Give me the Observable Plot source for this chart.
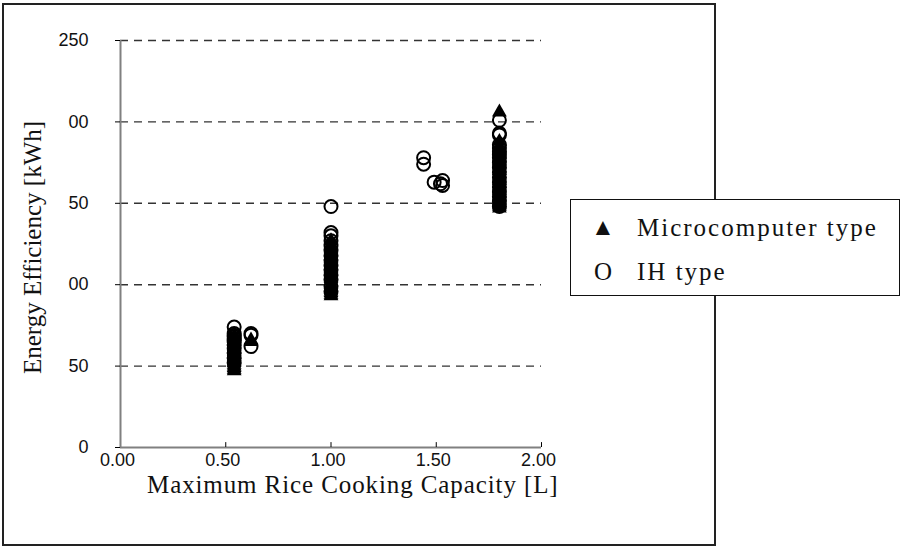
<!DOCTYPE html>
<html><head><meta charset="utf-8">
<script src="https://cdn.jsdelivr.net/npm/d3@7"></script>
<script src="https://cdn.jsdelivr.net/npm/@observablehq/plot@0.6"></script>
<style>
body{margin:0;background:#fff;}
#wrap{position:relative;width:909px;height:548px;overflow:hidden;background:#fff;}
#frame{position:absolute;left:2px;top:3px;width:710px;height:539px;border:2px solid #222;}
#chart{position:absolute;left:0;top:0;}
#ytitle{position:absolute;left:-106.5px;top:220.5px;width:295px;height:53px;background:#fff;transform:rotate(-90deg);
  font-family:"Liberation Serif","DejaVu Serif",serif;font-size:25px;line-height:36px;text-align:center;color:#111;}
#xtitle{position:absolute;left:147px;top:471px;font-family:"Liberation Serif","DejaVu Serif",serif;font-size:25px;letter-spacing:0.9px;color:#111;white-space:nowrap;}
#legend{position:absolute;left:570px;top:199px;width:328px;height:95px;border:1.5px solid #111;background:#fff;
  font-family:"Liberation Serif","DejaVu Serif",serif;font-size:25px;letter-spacing:2px;color:#111;}
.row{position:absolute;left:0;white-space:nowrap;}
.sym{position:absolute;left:20px;width:24px;text-align:center;letter-spacing:0;}
.lab{position:absolute;left:66px;}
</style></head><body>
<div id="wrap">
  <div id="frame"></div>
  <div id="chart"></div>
  <div id="ytitle">Energy Efficiency [kWh]</div>
  <div id="xtitle">Maximum Rice Cooking Capacity [L]</div>
  <div id="legend">
    <div class="row" style="top:14px"><span class="sym" style="font-size:24px;top:0px">▲</span><span class="lab">Microcomputer type</span></div>
    <div class="row" style="top:58px"><span class="sym">O</span><span class="lab">IH type</span></div>
  </div>
</div>
<script>
const xTicks = [0, 0.5, 1.0, 1.5, 2.0];
const yTicks = [0, 50, 100, 150, 200, 250];

const microCap = [
  0.54,0.54,0.54,0.54,0.54,0.54,0.54,0.54,0.54,0.54,0.54,0.54,0.54,0.54,0.54,0.54,0.54,0.54,0.54,0.54,0.54,0.54,
  0.62,0.62,
  1.0,1.0,1.0,1.0,1.0,1.0,1.0,1.0,1.0,1.0,1.0,1.0,1.0,1.0,1.0,1.0,1.0,1.0,1.0,1.0,
  1.8,1.8,1.8,1.8,1.8,1.8,1.8,1.8,1.8,1.8,1.8,1.8,1.8,1.8,1.8,1.8,1.8,1.8,1.8,1.8,1.8,1.8
];
const microEnergy = [
  47,48,49,50,51,52,53,54,55,56,57,58,59,60,61,62,63,64,65,66,67,68,
  65,66,
  93,94,95,96,97,98,100,102,104,106,108,110,112,114,116,118,120,122,124,127,
  147,148,149,150,152,154,156,158,160,162,164,166,168,170,172,174,176,178,180,184,188,206
];
const ihCap = [
  0.54,0.54,0.54,0.54,0.54,0.54,0.54,0.54,0.54,0.54,0.54,0.54,
  0.62,0.62,0.62,
  1.0,1.0,1.0,1.0,1.0,1.0,1.0,1.0,1.0,1.0,1.0,1.0,1.0,1.0,
  1.44,1.44,1.49,1.52,1.53,1.53,
  1.8,1.8,1.8,1.8,1.8,1.8,1.8,1.8,1.8,1.8,1.8,1.8,1.8,1.8,1.8,1.8,1.8,1.8
];
const ihEnergy = [
  52,55,58,61,63,65,66,67,68,69,70,74,
  62,69,70,
  96,99,103,106,109,112,115,118,121,124,127,130,132,148,
  174,178,163,162,164,161,
  148,151,154,157,160,163,166,169,172,175,178,180,182,184,186,192,193,201
];

const micro = microCap.map((c, i) => ({cap: c, energy: microEnergy[i]}));
const ih = ihCap.map((c, i) => ({cap: c, energy: ihEnergy[i]}));

const chart = Plot.plot({
  width: 909, height: 548,
  marginLeft: 120, marginRight: 368, marginTop: 40, marginBottom: 101,
  style: {background: "transparent", fontFamily: "'Liberation Sans', Arial, sans-serif", fontSize: "18px", color: "#111"},
  x: {domain: [0, 2]},
  y: {domain: [0, 250]},
  marks: [
    Plot.ruleY(yTicks.filter(d => d > 0), {stroke: "#333", strokeWidth: 1.4, strokeDasharray: "8,6"}),
    Plot.ruleX([0], {stroke: "#808080", strokeWidth: 2}),
    Plot.ruleY([0], {stroke: "#808080", strokeWidth: 2}),
    Plot.axisY({ticks: yTicks, tickSize: 5, tickPadding: 27, label: null, stroke: "#000"}),
    Plot.axisX({ticks: xTicks, tickSize: 0, tickPadding: 6, label: null, dx: -3, tickFormat: d => d.toFixed(2)}),
    Plot.ruleX(xTicks.slice(1), {y1: 0, y2: 3, stroke: "#000"}),
    Plot.dot(micro, {x: "cap", y: "energy", symbol: "triangle", fill: "#000", r: 5.5}),
    Plot.dot(ih, {x: "cap", y: "energy", symbol: "circle", stroke: "#000", fill: "none", r: 6.5, strokeWidth: 2})
  ]
});
document.getElementById("chart").appendChild(chart);
</script>
</body></html>
